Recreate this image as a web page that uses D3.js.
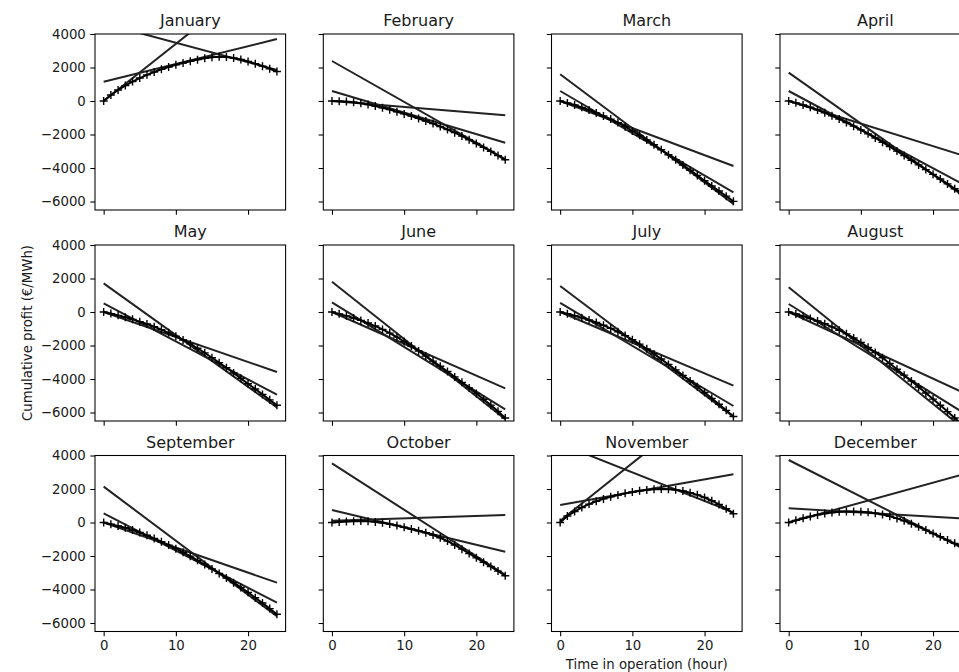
<!DOCTYPE html>
<html>
<head>
<meta charset="utf-8">
<script src="https://cdn.jsdelivr.net/npm/d3@7"></script>
<style>
	body { margin: 0; background: #fff; }
	text { font-family: "DejaVu Sans", sans-serif; fill: #1a1a1a; }
</style>
</head>
<body>
<script>
var months = ["January", "February", "March", "April", "May", "June",
	"July", "August", "September", "October", "November", "December"];
var hours = [0, 1, 2, 3, 4, 5, 6, 7, 8, 9, 10, 11, 12, 13, 14, 15, 16, 17, 18, 19, 20, 21, 22, 23, 24];

// cumulative profit per hour (+ markers), one row per month
var cumProfit = [
	[0, 360, 660, 920, 1160, 1370, 1560, 1730, 1890, 2030, 2160, 2270, 2370, 2470, 2550, 2610, 2640, 2630, 2570, 2480, 2360, 2230, 2080, 1920, 1760],
	[0, -10, -35, -75, -130, -205, -295, -400, -515, -640, -770, -900, -1040, -1190, -1350, -1520, -1700, -1890, -2095, -2310, -2540, -2770, -3010, -3260, -3510],
	[0, -115, -240, -380, -540, -710, -890, -1080, -1290, -1530, -1790, -2050, -2330, -2610, -2910, -3210, -3510, -3820, -4130, -4440, -4760, -5070, -5370, -5680, -5990],
	[0, -110, -235, -375, -530, -700, -885, -1080, -1285, -1500, -1725, -1960, -2205, -2460, -2720, -2990, -3260, -3540, -3815, -4095, -4380, -4660, -4950, -5235, -5525],
	[0, -95, -200, -315, -440, -575, -720, -880, -1055, -1245, -1450, -1670, -1905, -2165, -2440, -2730, -3025, -3330, -3645, -3960, -4280, -4600, -4920, -5245, -5570],
	[0, -110, -230, -360, -500, -660, -840, -1040, -1260, -1500, -1760, -2035, -2325, -2625, -2930, -3240, -3555, -3875, -4200, -4530, -4865, -5205, -5560, -5930, -6330],
	[0, -105, -220, -345, -480, -630, -795, -980, -1185, -1410, -1655, -1920, -2200, -2500, -2810, -3130, -3455, -3785, -4120, -4460, -4805, -5155, -5510, -5870, -6240],
	[0, -120, -250, -390, -540, -705, -885, -1085, -1305, -1550, -1820, -2110, -2415, -2735, -3070, -3415, -3770, -4120, -4475, -4835, -5200, -5570, -5945, -6325, -6710],
	[0, -100, -205, -315, -450, -600, -765, -950, -1150, -1350, -1560, -1780, -2010, -2260, -2510, -2770, -3040, -3310, -3590, -3875, -4170, -4490, -4810, -5140, -5480],
	[0, 35, 60, 80, 85, 70, 35, -20, -95, -180, -280, -385, -495, -615, -750, -915, -1110, -1340, -1590, -1850, -2110, -2370, -2630, -2900, -3180],
	[0, 390, 650, 900, 1100, 1265, 1410, 1530, 1640, 1740, 1825, 1895, 1945, 1980, 2000, 1990, 1950, 1880, 1780, 1650, 1490, 1300, 1080, 820, 520],
	[0, 130, 250, 360, 455, 535, 595, 635, 655, 660, 645, 610, 555, 475, 370, 245, 100, -70, -260, -455, -655, -855, -1050, -1245, -1440]
];

// the three straight lines in each panel, value at hour 0 and at hour 24
var lineHours = [0, 24];
var lineStart = [
	[4634, 1154, 0], [2388, 597, 0], [1600, 597, 0], [1691, 597, 0],
	[1711, 517, 0], [1811, 577, 0], [1550, 550, 0], [1473, 478, 0],
	[2139, 547, 0], [3532, 746, 100], [4700, 1045, 100], [3731, 846, 0]
];
var lineEnd = [
	[1860, 3700, 8190], [-3463, -2488, -856], [-6150, -5453, -3881], [-5604, -4935, -3234],
	[-5700, -4935, -3582], [-6400, -5811, -4557], [-6250, -5612, -4398], [-6880, -5960, -4776],
	[-5600, -4786, -3592], [-3120, -1741, 448], [600, 2876, 8370], [-1513, 237, 2851]
];

var yTicks = [-6000, -4000, -2000, 0, 2000, 4000];
var xTicks = [0, 10, 20];
var yDomain = [-6507, 4000];
var xDomain = [-1.2, 25.2];

var w = 959;
var h = 672;
var axLeft = [95, 323.3, 551.5, 780];
var axTop = [34, 245, 455.5];
var axW = 190.6;
var axH = 176;

var svg = d3.select("body").append("svg")
	.attr("width", w)
	.attr("height", h);

svg.append("rect").attr("width", w).attr("height", h).attr("fill", "white");

var fmt = d3.format("d");
var plus = "M-4,0H4M0,-4V4";

months.forEach(function(name, i) {
	var row = Math.floor(i / 4), col = i % 4;
	var L = axLeft[col], T = axTop[row];

	var x = d3.scaleLinear().domain(xDomain).range([L, L + axW]);
	var y = d3.scaleLinear().domain(yDomain).range([T + axH, T]);

	svg.append("clipPath").attr("id", "clip" + i)
		.append("rect")
		.attr("x", L).attr("y", T)
		.attr("width", axW).attr("height", axH);

	var g = svg.append("g");
	var plot = g.append("g").attr("clip-path", "url(#clip" + i + ")");

	var line = d3.line()
		.x(function(d) { return x(d[0]); })
		.y(function(d) { return y(d[1]); });

	// straight lines
	for (var k = 0; k < 3; k++) {
		plot.append("path")
			.datum([[lineHours[0], lineStart[i][k]], [lineHours[1], lineEnd[i][k]]])
			.attr("d", line)
			.attr("fill", "none")
			.attr("stroke", "#222")
			.attr("stroke-width", 2);
	}

	// cumulative profit with + markers
	var pts = hours.map(function(hr, j) { return [hr, cumProfit[i][j]]; });
	plot.append("path")
		.datum(pts)
		.attr("d", line)
		.attr("fill", "none")
		.attr("stroke", "black")
		.attr("stroke-width", 2);
	plot.selectAll(".mk")
		.data(pts)
		.enter()
		.append("path")
		.attr("d", plus)
		.attr("transform", function(d) { return "translate(" + x(d[0]) + "," + y(d[1]) + ")"; })
		.attr("stroke", "black")
		.attr("stroke-width", 1.4)
		.attr("fill", "none");

	// axes
	var yAxis = d3.axisLeft(y).tickValues(yTicks).tickSize(4.7).tickPadding(4.5)
		.tickFormat(col == 0 ? fmt : "");
	var xAxis = d3.axisBottom(x).tickValues(xTicks).tickSize(4.7).tickPadding(4.5)
		.tickFormat(row == 2 ? fmt : "");

	var ya = g.append("g").attr("transform", "translate(" + L + ",0)").call(yAxis);
	var xa = g.append("g").attr("transform", "translate(0," + (T + axH) + ")").call(xAxis);
	[ya, xa].forEach(function(a) {
		a.select(".domain").remove();
		a.selectAll("line").attr("stroke", "black").attr("stroke-width", 1.07);
		a.selectAll("text")
			.attr("font-family", "DejaVu Sans, sans-serif")
			.attr("font-size", "13.3px")
			.attr("fill", "#1a1a1a");
	});

	g.append("rect")
		.attr("x", L).attr("y", T)
		.attr("width", axW).attr("height", axH)
		.attr("fill", "none")
		.attr("stroke", "black")
		.attr("stroke-width", 1.07);

	g.append("text")
		.text(name)
		.attr("x", L + axW / 2)
		.attr("y", T - 8)
		.attr("text-anchor", "middle")
		.attr("font-size", "16px");
});

svg.append("text")
	.text("Time in operation (hour)")
	.attr("x", axLeft[2] + axW / 2)
	.attr("y", 669)
	.attr("text-anchor", "middle")
	.attr("font-size", "13.3px");

svg.append("text")
	.text("Cumulative profit (€/MWh)")
	.attr("transform", "translate(32," + (axTop[1] + axH / 2) + ") rotate(-90)")
	.attr("text-anchor", "middle")
	.attr("font-size", "13.3px");
</script>
</body>
</html>
